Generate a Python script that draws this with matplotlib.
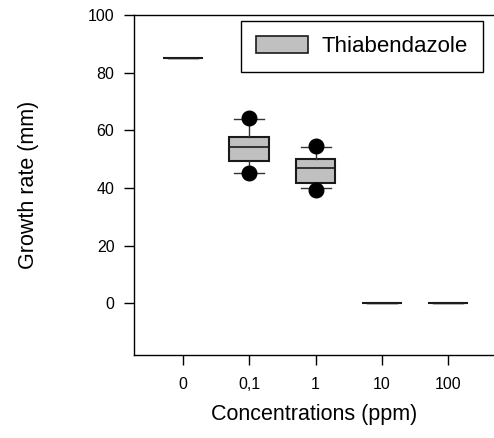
import matplotlib
matplotlib.use("Agg")
import matplotlib.pyplot as plt
from matplotlib.patches import Patch

plt.rcParams['font.family'] = ['Liberation Sans', 'DejaVu Sans']

# ----- data -----
concentrations = ["0", "0,1", "1", "10", "100"]
medians = [85.0, 54.2, 47.0, 0.0, 0.0]
q1 = [85.0, 49.2, 41.7, 0.0, 0.0]
q3 = [85.0, 57.6, 49.9, 0.0, 0.0]
whisk_lo = [85.0, 45.2, 39.8, 0.0, 0.0]
whisk_hi = [85.0, 63.9, 54.2, 0.0, 0.0]
outliers = [[], [64.3, 45.3], [54.7, 39.2], [], []]
y_ticks = [0, 20, 40, 60, 80, 100]

stats = []
for i, name in enumerate(concentrations):
    stats.append({
        "label": name,
        "med": medians[i],
        "q1": q1[i],
        "q3": q3[i],
        "whislo": whisk_lo[i],
        "whishi": whisk_hi[i],
        "fliers": outliers[i],
    })

fig = plt.figure(figsize=(4.94, 4.38), dpi=100)
ax = fig.add_axes([0.271, 0.1895, 0.729, 0.7763])

ax.bxp(
    stats,
    positions=range(len(concentrations)),
    widths=0.6,
    patch_artist=True,
    boxprops=dict(facecolor="#c0c0c0", edgecolor="#1a1a1a", linewidth=1.5),
    medianprops=dict(color="#1a1a1a", linewidth=1.2),
    whiskerprops=dict(color="#333333", linewidth=1.0),
    capprops=dict(color="#333333", linewidth=1.0),
    capwidths=0.45,
    flierprops=dict(marker="o", markerfacecolor="black", markeredgecolor="black",
                    markersize=10.5),
)

ax.set_xlim(-0.74, 4.69)
ax.set_ylim(-18, 100)
ax.set_yticks(y_ticks)
ax.set_xticks(range(len(concentrations)))
ax.set_xticklabels(concentrations)

for side in ["top", "right"]:
    ax.spines[side].set_visible(False)
ax.spines["left"].set_linewidth(1.0)
ax.spines["bottom"].set_linewidth(1.0)
ax.plot([0, 1], [1, 1], transform=ax.transAxes, color="black", linewidth=1.0,
        clip_on=False)

ax.tick_params(axis="both", direction="out", length=7, width=1, labelsize=11.5)
ax.tick_params(axis="x", pad=9)
ax.tick_params(axis="y", pad=7)

ax.set_xlabel("Concentrations (ppm)", fontsize=15.5)
ax.set_ylabel("Growth rate (mm)", fontsize=15.5)
ax.xaxis.set_label_coords(0.5, -0.145)
ax.yaxis.set_label_coords(-0.264, 0.5)

handle = Patch(facecolor="#c0c0c0", edgecolor="#1a1a1a", linewidth=1.2)
leg = ax.legend([handle], ["Thiabendazole"], loc="upper right",
                bbox_to_anchor=(0.969, 0.983), fontsize=16, fancybox=False,
                edgecolor="black", framealpha=1, handlelength=2.34,
                handleheight=0.81, handletextpad=0.59, borderpad=0.68,
                borderaxespad=0)
leg.get_frame().set_linewidth(1.0)

fig.savefig("out.png", dpi=100)
